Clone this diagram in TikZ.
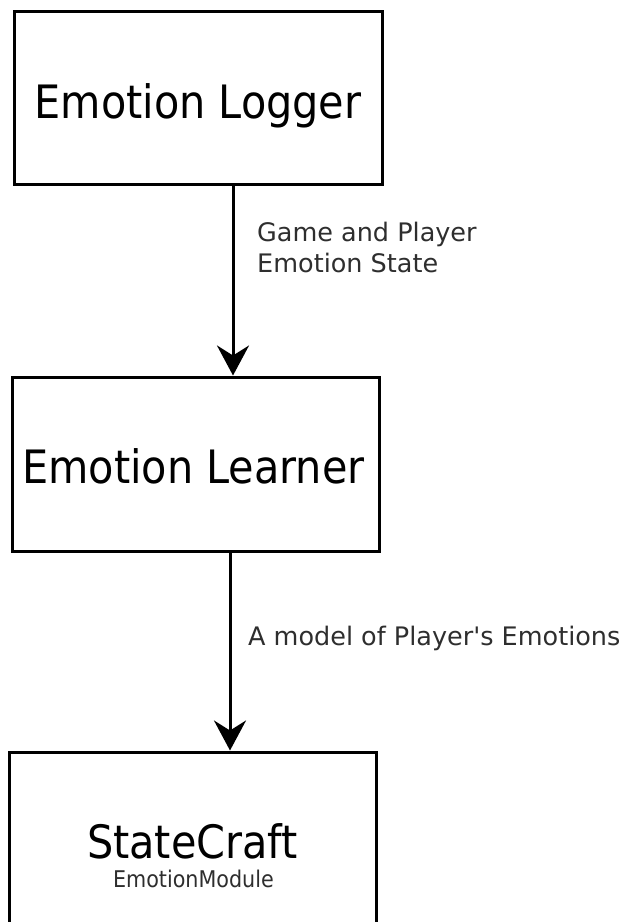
\documentclass[tikz,border=0pt]{standalone}
\usepackage{fontspec}
\setmainfont{DejaVu Sans}[Ligatures=TeXOff]
\newfontfamily\condfont{DejaVu Sans Condensed}
\usetikzlibrary{arrows.meta}
\begin{document}
\begin{tikzpicture}[x=1pt,y=-1pt,
  box/.style={draw=black, line width=3pt, rectangle, inner sep=0pt},
  big/.style={font=\condfont\fontsize{46}{54}\selectfont, anchor=base, inner sep=0pt},
  lbl/.style={font=\fontsize{25.5}{31}\selectfont, anchor=base west, inner sep=0pt, align=left, text=black!82},
  arr/.style={line width=3pt, -{Stealth[length=30pt, width=32pt, inset=10pt]}}]
\useasboundingbox (0,0) rectangle (621,922);
\node[box, minimum width=368pt, minimum height=173pt] (logger) at (198,97.5) {};
\node[box, minimum width=367pt, minimum height=174pt] (learner) at (195.5,464) {};
\node[box, minimum width=367pt, minimum height=173pt] (sc) at (192.5,838.5) {};
\node[big] (loggert) at (198,118) {Emotion Logger};
\node[big] (learnert) at (193.5,483) {Emotion Learner};
\node[big] (sct) at (192.5,858) {StateCraft};
\node[font=\condfont\fontsize{23}{27}\selectfont, anchor=base, inner sep=0pt, text=black!82] (scm) at (193.5,887) {EmotionModule};
\coordinate (a1) at (233,0);
\coordinate (a2) at (230,0);
\draw[arr] (logger.south -| a1) -- (learner.north -| a1);
\draw[arr] (learner.south -| a2) -- (sc.north -| a2);
\node[lbl] (l1) at (257,272) {Game and Player\\Emotion State};
\node[lbl] (l2) at (248,645) {A model of Player's Emotions};
\end{tikzpicture}
\end{document}
